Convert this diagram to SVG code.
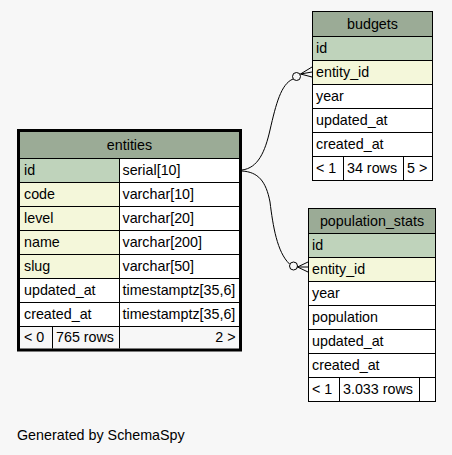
<svg xmlns="http://www.w3.org/2000/svg" width="452" height="455" viewBox="0 0 452 455">
<style>
text{font-family:"Liberation Sans",Arial,Helvetica,sans-serif;font-size:14.3px;fill:#000}
.hd{fill:#9bab96}
.pk{fill:#bfd3bb}
.fk{fill:#f4f7da}
.pl{fill:#ffffff}
.ln{stroke:#000;stroke-width:1;fill:none}
.c{text-anchor:middle}
.e{text-anchor:end}
.edge{stroke:#000;stroke-width:1;fill:none}
</style>
<rect x="0" y="0" width="452" height="455" fill="#f7f7f7"/>

<g id="connectors">
  <path class="edge" d="M242,170 C258,168 265,152 270,130 C276,104 281,84 293,79"/>
  <circle class="edge" cx="296.5" cy="76.5" r="4" fill="#f7f7f7"/>
  <path class="edge" d="M300.5,74 L312,67 M300.5,74 L312,72 M300.5,74 L312,77"/>
  <path class="edge" d="M242,171 C258,172 266,181 270,202 C273,226 277,252 289.5,264"/>
  <circle class="edge" cx="293.5" cy="266" r="4" fill="#f7f7f7"/>
  <path class="edge" d="M297.5,267 L308,262 M297.5,267 L308,267 M297.5,267 L308,272"/>
</g>

<g id="entities">
  <rect class="hd" x="20" y="132" width="219" height="26.5"/>
  <rect class="pk" x="20" y="158.5" width="99.5" height="24"/>
  <rect class="fk" x="20" y="182.5" width="99.5" height="96"/>
  <rect class="pl" x="20" y="278.5" width="99.5" height="48"/>
  <rect class="pl" x="119.5" y="158.5" width="119.5" height="168"/>
  <path class="ln" d="M20,158.5H239M20,182.5H239M20,206.5H239M20,230.5H239M20,254.5H239M20,278.5H239M20,302.5H239M20,326.5H239M119.5,158.5V348.5M52.5,326.5V348.5"/>
  <rect x="18.5" y="130.5" width="222" height="219.5" fill="none" stroke="#000" stroke-width="3"/>
  <text class="c" x="129.5" y="150">entities</text>
  <text x="24" y="175">id</text>
  <text x="24" y="199">code</text>
  <text x="24" y="223">level</text>
  <text x="24" y="247">name</text>
  <text x="24" y="271">slug</text>
  <text x="24" y="295">updated_at</text>
  <text x="24" y="319">created_at</text>
  <text x="122.5" y="175">serial[10]</text>
  <text x="122.5" y="199">varchar[10]</text>
  <text x="122.5" y="223">varchar[20]</text>
  <text x="122.5" y="247">varchar[200]</text>
  <text x="122.5" y="271">varchar[50]</text>
  <text x="122.5" y="295">timestamptz[35,6]</text>
  <text x="122.5" y="319">timestamptz[35,6]</text>
  <text x="24" y="342">&lt; 0</text>
  <text x="56" y="342">765 rows</text>
  <text class="e" x="235.5" y="342">2 &gt;</text>
</g>

<g id="budgets">
  <rect class="hd" x="312.5" y="11.5" width="120" height="25"/>
  <rect class="pk" x="312.5" y="36.5" width="120" height="24"/>
  <rect class="fk" x="312.5" y="60.5" width="120" height="24"/>
  <rect class="pl" x="312.5" y="84.5" width="120" height="96"/>
  <path class="ln" d="M312.5,36.5H432.5M312.5,60.5H432.5M312.5,84.5H432.5M312.5,108.5H432.5M312.5,132.5H432.5M312.5,156.5H432.5M343.5,156.5V180.5M403.5,156.5V180.5"/>
  <rect class="ln" x="312.5" y="11.5" width="120" height="169"/>
  <text class="c" x="372.5" y="29">budgets</text>
  <text x="316" y="52.5">id</text>
  <text x="316" y="76.5">entity_id</text>
  <text x="316" y="100.5">year</text>
  <text x="316" y="124.5">updated_at</text>
  <text x="316" y="148.5">created_at</text>
  <text x="316" y="172.5">&lt; 1</text>
  <text x="347" y="172.5">34 rows</text>
  <text x="407" y="172.5">5 &gt;</text>
</g>

<g id="population_stats">
  <rect class="hd" x="308.5" y="208.5" width="127" height="25"/>
  <rect class="pk" x="308.5" y="233.5" width="127" height="24"/>
  <rect class="fk" x="308.5" y="257.5" width="127" height="24"/>
  <rect class="pl" x="308.5" y="281.5" width="127" height="120"/>
  <path class="ln" d="M308.5,233.5H435.5M308.5,257.5H435.5M308.5,281.5H435.5M308.5,305.5H435.5M308.5,329.5H435.5M308.5,353.5H435.5M308.5,377.5H435.5M339.5,377.5V401.5M419.5,377.5V401.5"/>
  <rect class="ln" x="308.5" y="208.5" width="127" height="193"/>
  <text class="c" x="372" y="226">population_stats</text>
  <text x="312" y="249.5">id</text>
  <text x="312" y="273.5">entity_id</text>
  <text x="312" y="297.5">year</text>
  <text x="312" y="321.5">population</text>
  <text x="312" y="345.5">updated_at</text>
  <text x="312" y="369.5">created_at</text>
  <text x="312" y="393.5">&lt; 1</text>
  <text x="343" y="393.5">3.033 rows</text>
</g>

<text x="17" y="440">Generated by SchemaSpy</text>
</svg>
